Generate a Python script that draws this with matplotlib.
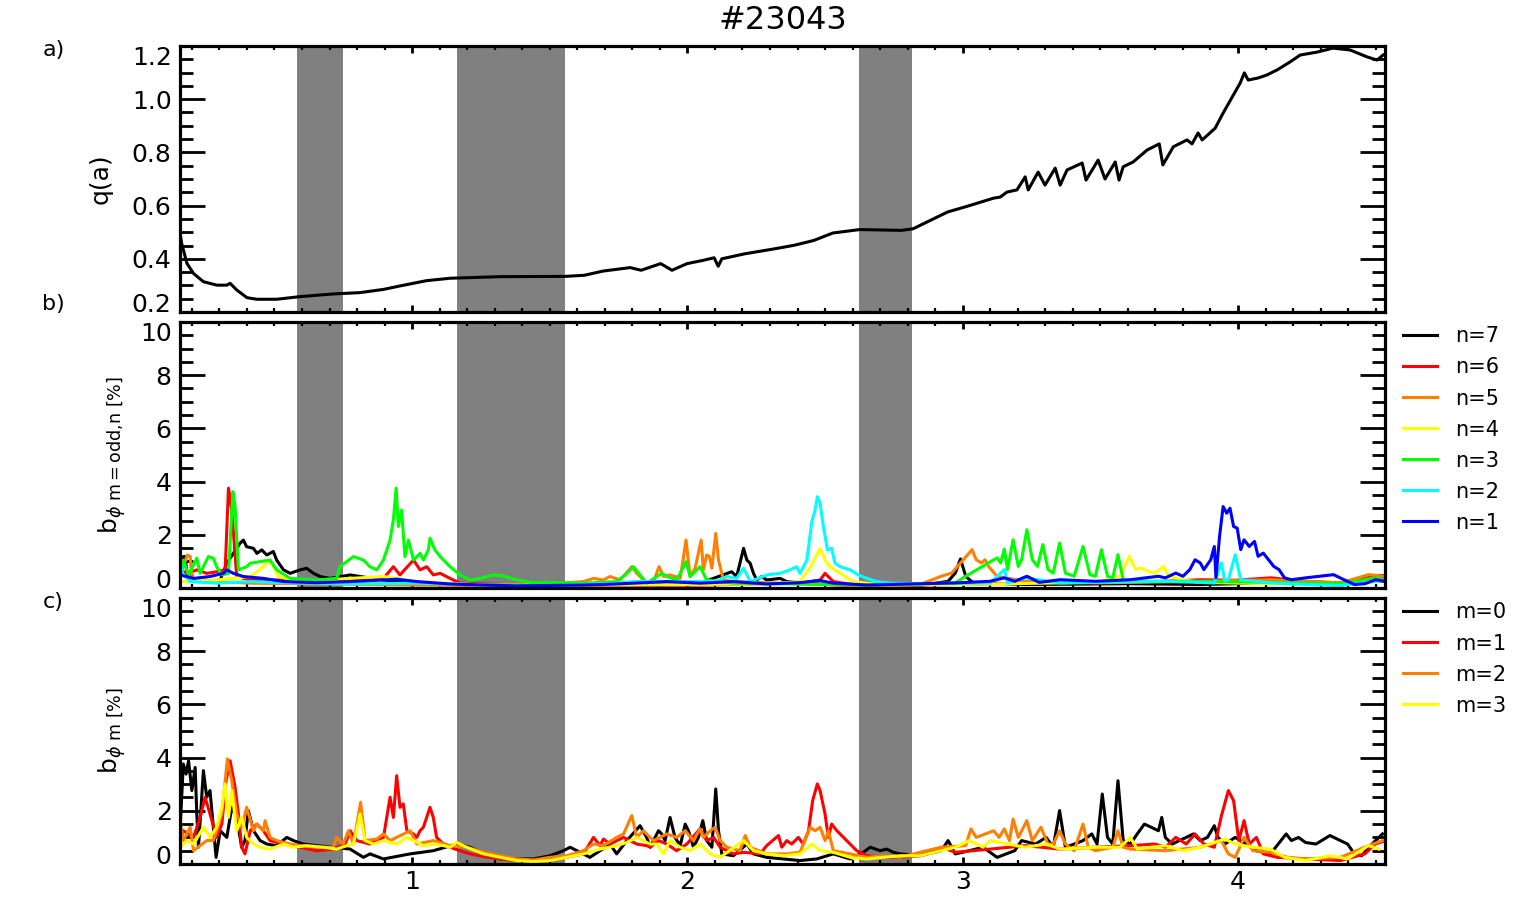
import numpy as np
import matplotlib.pyplot as plt
from matplotlib.ticker import MultipleLocator

plt.rcParams['font.family'] = 'DejaVu Sans'
plt.rcParams['mathtext.fontset'] = 'dejavusans'

shot = '#23043'
x_range = (0.157, 4.534)
bands = [(0.582, 0.749), (1.163, 1.556), (2.624, 2.816)]

# panel a: edge safety factor q(a) vs time
q_a = np.array([
    (0.157, 0.497), (0.163, 0.458), (0.182, 0.383), (0.206, 0.345), (0.242, 0.314),
    (0.291, 0.301), (0.327, 0.301), (0.339, 0.308), (0.363, 0.283), (0.400, 0.254),
    (0.436, 0.248), (0.509, 0.248), (0.593, 0.258), (0.714, 0.268), (0.811, 0.273),
    (0.896, 0.285), (0.956, 0.298), (1.053, 0.318), (1.138, 0.327), (1.320, 0.333),
    (1.555, 0.334), (1.625, 0.338), (1.694, 0.354), (1.792, 0.367), (1.832, 0.357),
    (1.903, 0.382), (1.944, 0.357), (1.999, 0.382), (2.056, 0.394), (2.097, 0.404),
    (2.112, 0.372), (2.125, 0.400), (2.209, 0.419), (2.319, 0.438), (2.388, 0.451),
    (2.459, 0.469), (2.528, 0.497), (2.626, 0.510), (2.778, 0.507), (2.820, 0.513),
    (2.945, 0.576), (3.015, 0.597), (3.112, 0.628), (3.136, 0.632), (3.161, 0.651),
    (3.197, 0.659), (3.227, 0.708), (3.238, 0.659), (3.274, 0.726), (3.299, 0.677),
    (3.336, 0.741), (3.354, 0.677), (3.379, 0.734), (3.434, 0.760), (3.448, 0.696),
    (3.492, 0.771), (3.517, 0.700), (3.554, 0.764), (3.568, 0.696), (3.583, 0.746),
    (3.619, 0.764), (3.670, 0.809), (3.714, 0.832), (3.727, 0.753), (3.765, 0.821),
    (3.815, 0.847), (3.833, 0.832), (3.855, 0.873), (3.870, 0.847), (3.917, 0.891),
    (3.946, 0.948), (4.008, 1.061), (4.023, 1.099), (4.037, 1.072), (4.074, 1.080),
    (4.105, 1.091), (4.142, 1.110), (4.189, 1.140), (4.226, 1.166), (4.287, 1.177),
    (4.345, 1.192), (4.407, 1.185), (4.469, 1.159), (4.505, 1.147), (4.527, 1.166),
])

# panel b: odd-m toroidal modes by n
n7 = np.array([
    (0.157, 0.30), (0.169, 1.18), (0.175, 1.18), (0.184, 0.43), (0.230, 0.24), (0.303, 0.30),
    (0.327, 0.93), (0.375, 1.68), (0.387, 1.80), (0.399, 1.55), (0.424, 1.49), (0.436, 1.30),
    (0.454, 1.43), (0.472, 1.24), (0.496, 1.37), (0.508, 1.05), (0.533, 0.68), (0.557, 0.55),
    (0.593, 0.68), (0.617, 0.74), (0.642, 0.55), (0.666, 0.43), (0.702, 0.36), (0.775, 0.49),
    (0.811, 0.43), (0.896, 0.30), (1.017, 0.18), (1.259, 0.11), (1.501, 0.08), (1.743, 0.11),
    (2.046, 0.18), (2.161, 0.61), (2.179, 0.43), (2.204, 1.49), (2.216, 1.05), (2.228, 0.93),
    (2.240, 0.55), (2.252, 0.30), (2.270, 0.43), (2.288, 0.30), (2.337, 0.36), (2.361, 0.24),
    (2.470, 0.15), (2.652, 0.08), (2.845, 0.09), (2.947, 0.25), (2.973, 0.56), (2.992, 1.09),
    (3.011, 0.44), (3.036, 0.21), (3.227, 0.13), (3.609, 0.16), (3.863, 0.13), (4.118, 0.19),
    (4.372, 0.16), (4.474, 0.31), (4.537, 0.25),
])
n6 = np.array([
    (0.157, 0.68), (0.182, 0.55), (0.218, 0.68), (0.254, 0.55), (0.290, 0.61), (0.321, 0.68),
    (0.333, 3.75), (0.345, 2.93), (0.363, 0.43), (0.412, 0.30), (0.533, 0.30), (0.654, 0.24),
    (0.775, 0.30), (0.896, 0.36), (0.932, 0.80), (0.956, 0.49), (1.005, 1.05), (1.029, 0.68),
    (1.053, 0.80), (1.077, 0.49), (1.102, 0.55), (1.138, 0.36), (1.174, 0.18), (1.380, 0.11),
    (1.622, 0.08), (2.046, 0.11), (2.409, 0.18), (2.482, 0.30), (2.500, 0.55), (2.530, 0.24),
    (2.567, 0.18), (2.652, 0.08), (2.973, 0.13), (3.354, 0.21), (3.736, 0.25), (3.863, 0.31),
    (3.990, 0.29), (4.118, 0.38), (4.245, 0.25), (4.372, 0.19), (4.499, 0.44), (4.537, 0.38),
])
n5 = np.array([
    (0.157, 0.43), (0.184, 1.24), (0.194, 1.18), (0.200, 0.36), (0.290, 0.24), (0.412, 0.18),
    (0.654, 0.15), (1.017, 0.11), (1.380, 0.08), (1.622, 0.24), (1.659, 0.36), (1.695, 0.30),
    (1.719, 0.43), (1.756, 0.30), (1.798, 0.80), (1.816, 0.55), (1.852, 0.18), (1.877, 0.24),
    (1.897, 0.80), (1.913, 0.43), (1.937, 0.49), (1.955, 0.43), (1.974, 0.36), (1.995, 1.80),
    (2.010, 0.43), (2.028, 0.74), (2.050, 1.80), (2.058, 0.68), (2.070, 1.24), (2.080, 1.18),
    (2.089, 0.74), (2.103, 2.05), (2.113, 1.05), (2.131, 0.30), (2.167, 0.24), (2.409, 0.15),
    (2.652, 0.08), (2.845, 0.13), (2.922, 0.44), (2.960, 0.56), (3.034, 1.44), (3.049, 1.06),
    (3.068, 0.94), (3.081, 1.06), (3.094, 0.81), (3.125, 0.44), (3.227, 0.25), (3.482, 0.19),
    (3.863, 0.25), (4.118, 0.31), (4.372, 0.19), (4.474, 0.50), (4.537, 0.44),
])
n4 = np.array([
    (0.157, 0.24), (0.290, 0.30), (0.412, 0.43), (0.460, 0.80), (0.478, 1.05), (0.496, 0.80),
    (0.514, 0.43), (0.593, 0.24), (0.775, 0.36), (0.896, 0.43), (1.017, 0.24), (1.259, 0.11),
    (1.743, 0.11), (2.288, 0.15), (2.409, 0.24), (2.448, 0.80), (2.482, 1.49), (2.500, 1.05),
    (2.518, 0.80), (2.555, 0.55), (2.603, 0.24), (2.712, 0.11), (2.973, 0.13), (3.482, 0.21),
    (3.571, 0.44), (3.606, 1.19), (3.628, 0.69), (3.647, 0.75), (3.672, 0.63), (3.698, 0.56),
    (3.730, 0.81), (3.749, 0.44), (3.800, 0.31), (3.863, 0.21), (4.118, 0.16), (4.372, 0.13),
    (4.499, 0.29), (4.537, 0.31),
])
n3 = np.array([
    (0.157, 0.55), (0.169, 1.05), (0.188, 0.49), (0.218, 1.12), (0.230, 0.55), (0.260, 1.18),
    (0.278, 1.12), (0.290, 0.80), (0.309, 0.49), (0.333, 0.55), (0.349, 3.62), (0.357, 3.06),
    (0.369, 0.68), (0.399, 0.80), (0.412, 0.93), (0.448, 0.99), (0.484, 1.05), (0.508, 0.68),
    (0.557, 0.36), (0.654, 0.30), (0.726, 0.36), (0.738, 0.80), (0.787, 1.18), (0.823, 1.05),
    (0.847, 0.80), (0.872, 0.68), (0.896, 1.05), (0.920, 1.80), (0.932, 2.56), (0.942, 3.75),
    (0.950, 2.31), (0.962, 2.93), (0.974, 1.18), (0.987, 1.80), (1.005, 1.05), (1.029, 1.30),
    (1.041, 1.05), (1.059, 1.43), (1.065, 1.87), (1.083, 1.43), (1.102, 1.18), (1.138, 0.80),
    (1.174, 0.49), (1.211, 0.30), (1.247, 0.36), (1.295, 0.49), (1.332, 0.45), (1.380, 0.30),
    (1.440, 0.20), (1.549, 0.20), (1.622, 0.18), (1.743, 0.24), (1.774, 0.49), (1.804, 0.80),
    (1.828, 0.49), (1.852, 0.18), (1.907, 0.55), (1.925, 0.43), (1.961, 0.30), (1.995, 0.99),
    (2.010, 0.43), (2.046, 0.80), (2.070, 0.30), (2.167, 0.18), (2.409, 0.15), (2.652, 0.11),
    (2.973, 0.19), (3.011, 0.44), (3.113, 1.06), (3.125, 1.13), (3.138, 0.94), (3.151, 1.46),
    (3.163, 0.69), (3.183, 1.81), (3.202, 0.81), (3.214, 1.06), (3.233, 2.19), (3.253, 1.06),
    (3.272, 0.81), (3.291, 1.63), (3.310, 0.69), (3.329, 0.56), (3.352, 1.69), (3.373, 0.56),
    (3.405, 0.44), (3.437, 1.56), (3.462, 0.50), (3.482, 0.44), (3.504, 1.44), (3.526, 0.44),
    (3.545, 0.38), (3.564, 1.25), (3.583, 0.31), (3.609, 0.25), (3.863, 0.25), (4.118, 0.21),
    (4.372, 0.16), (4.499, 0.38), (4.537, 0.31),
])
n2 = np.array([
    (0.157, 1.05), (0.166, 0.55), (0.194, 0.24), (0.290, 0.18), (0.412, 0.24), (0.533, 0.20),
    (0.775, 0.15), (1.017, 0.18), (1.259, 0.11), (1.501, 0.08), (1.743, 0.18), (1.804, 0.24),
    (2.107, 0.24), (2.143, 0.43), (2.179, 0.36), (2.204, 0.74), (2.228, 0.24), (2.288, 0.49),
    (2.337, 0.55), (2.373, 0.68), (2.397, 0.80), (2.409, 0.55), (2.434, 1.05), (2.452, 2.49),
    (2.464, 2.93), (2.472, 3.43), (2.482, 3.18), (2.494, 2.31), (2.509, 1.43), (2.524, 1.49),
    (2.536, 0.93), (2.555, 0.80), (2.591, 0.68), (2.621, 0.49), (2.652, 0.36), (2.688, 0.24),
    (2.736, 0.18), (2.845, 0.16), (3.100, 0.19), (3.151, 0.69), (3.163, 0.19), (3.227, 0.38),
    (3.354, 0.19), (3.736, 0.25), (3.914, 0.19), (3.940, 0.94), (3.952, 0.25), (3.965, 0.31),
    (3.990, 1.25), (4.010, 0.31), (4.118, 0.19), (4.245, 0.13), (4.372, 0.09), (4.499, 0.25),
    (4.537, 0.31),
])
n1 = np.array([
    (0.157, 0.49), (0.206, 0.36), (0.266, 0.43), (0.315, 0.55), (0.327, 0.68), (0.351, 0.55),
    (0.387, 0.43), (0.460, 0.36), (0.533, 0.24), (0.654, 0.20), (0.775, 0.24), (0.896, 0.30),
    (0.944, 0.33), (1.017, 0.24), (1.138, 0.15), (1.259, 0.11), (1.380, 0.08), (1.622, 0.11),
    (1.743, 0.15), (1.804, 0.18), (1.925, 0.24), (2.046, 0.18), (2.167, 0.24), (2.288, 0.15),
    (2.409, 0.20), (2.482, 0.28), (2.530, 0.18), (2.652, 0.11), (2.973, 0.19), (3.100, 0.25),
    (3.151, 0.38), (3.189, 0.25), (3.233, 0.44), (3.278, 0.21), (3.354, 0.31), (3.482, 0.25),
    (3.609, 0.31), (3.711, 0.44), (3.736, 0.38), (3.774, 0.56), (3.800, 0.44), (3.825, 0.69),
    (3.844, 1.06), (3.863, 0.94), (3.876, 0.69), (3.901, 1.06), (3.914, 1.56), (3.920, 0.38),
    (3.933, 1.94), (3.946, 3.06), (3.959, 2.81), (3.971, 3.00), (3.984, 2.31), (3.997, 2.25),
    (4.010, 1.44), (4.022, 1.81), (4.041, 1.56), (4.060, 1.75), (4.073, 1.19), (4.092, 1.31),
    (4.111, 1.06), (4.130, 0.81), (4.149, 0.69), (4.169, 0.38), (4.194, 0.31), (4.245, 0.38),
    (4.296, 0.44), (4.347, 0.50), (4.385, 0.31), (4.423, 0.13), (4.461, 0.16), (4.499, 0.31),
    (4.537, 0.25),
])

# panel c: poloidal modes m
m0 = np.array([
    (0.157, 1.25), (0.169, 3.76), (0.179, 3.38), (0.188, 3.88), (0.200, 2.76), (0.212, 3.63),
    (0.218, 1.88), (0.224, 0.63), (0.242, 3.51), (0.254, 2.51), (0.266, 2.76), (0.278, 1.38),
    (0.288, 0.25), (0.303, 1.25), (0.327, 1.00), (0.345, 2.13), (0.363, 1.75), (0.381, 0.63),
    (0.393, 0.88), (0.405, 2.01), (0.424, 1.25), (0.448, 0.88), (0.472, 0.75), (0.508, 0.69),
    (0.545, 1.00), (0.569, 0.88), (0.605, 0.75), (0.654, 0.69), (0.714, 0.63), (0.775, 0.56),
    (0.823, 0.25), (0.847, 0.38), (0.896, 0.19), (0.993, 0.38), (1.077, 0.50), (1.162, 0.75),
    (1.211, 0.63), (1.259, 0.38), (1.320, 0.19), (1.380, 0.19), (1.441, 0.19), (1.501, 0.31),
    (1.550, 0.50), (1.574, 0.63), (1.610, 0.44), (1.646, 0.25), (1.683, 0.50), (1.719, 0.75),
    (1.743, 0.38), (1.780, 0.88), (1.828, 1.44), (1.852, 1.00), (1.865, 0.63), (1.895, 1.25),
    (1.907, 1.13), (1.919, 0.88), (1.937, 1.75), (1.955, 1.00), (1.974, 0.69), (1.992, 1.50),
    (2.004, 1.25), (2.022, 0.63), (2.040, 1.00), (2.056, 1.63), (2.070, 0.88), (2.089, 0.63),
    (2.103, 2.82), (2.113, 1.25), (2.125, 0.38), (2.167, 0.31), (2.216, 0.75), (2.240, 0.38),
    (2.288, 0.25), (2.349, 0.19), (2.409, 0.13), (2.470, 0.19), (2.530, 0.38), (2.591, 0.19),
    (2.639, 0.44), (2.664, 0.63), (2.700, 0.50), (2.724, 0.56), (2.748, 0.44), (2.773, 0.38),
    (2.845, 0.31), (2.922, 0.50), (2.947, 0.88), (2.973, 0.38), (3.024, 0.50), (3.074, 0.63),
    (3.125, 0.25), (3.189, 0.50), (3.214, 0.88), (3.265, 0.75), (3.303, 1.00), (3.329, 0.63),
    (3.352, 2.01), (3.373, 0.63), (3.405, 0.75), (3.437, 0.88), (3.469, 1.13), (3.488, 0.75),
    (3.507, 2.63), (3.526, 1.00), (3.545, 0.75), (3.564, 3.13), (3.583, 0.88), (3.609, 0.75),
    (3.634, 1.13), (3.660, 1.50), (3.685, 1.38), (3.711, 1.25), (3.723, 1.75), (3.736, 1.00),
    (3.761, 0.75), (3.787, 0.88), (3.812, 1.00), (3.838, 1.13), (3.863, 0.88), (3.889, 1.00),
    (3.914, 1.44), (3.927, 1.00), (3.952, 0.75), (3.990, 1.00), (4.029, 0.75), (4.067, 0.50),
    (4.118, 0.38), (4.175, 1.13), (4.194, 0.88), (4.220, 1.00), (4.245, 0.81), (4.283, 0.75),
    (4.334, 1.07), (4.372, 0.88), (4.398, 0.75), (4.423, 0.38), (4.449, 0.31), (4.487, 0.75),
    (4.525, 1.13),
])
m1 = np.array([
    (0.157, 0.88), (0.169, 1.25), (0.206, 1.00), (0.230, 1.75), (0.248, 2.51), (0.266, 1.88),
    (0.290, 1.00), (0.309, 1.50), (0.324, 3.13), (0.339, 3.88), (0.357, 2.88), (0.369, 1.88),
    (0.381, 0.63), (0.393, 0.38), (0.412, 1.25), (0.436, 1.50), (0.460, 1.25), (0.484, 0.88),
    (0.533, 0.75), (0.593, 0.63), (0.654, 0.50), (0.714, 0.56), (0.757, 0.75), (0.775, 1.25),
    (0.799, 0.88), (0.847, 0.75), (0.896, 1.00), (0.920, 2.51), (0.932, 1.75), (0.944, 3.32),
    (0.956, 2.13), (0.968, 2.26), (0.981, 1.25), (1.005, 1.13), (1.017, 1.00), (1.029, 1.25),
    (1.041, 1.38), (1.065, 2.13), (1.077, 1.75), (1.089, 1.00), (1.114, 0.75), (1.138, 0.63),
    (1.174, 0.50), (1.211, 0.38), (1.259, 0.28), (1.320, 0.19), (1.380, 0.13), (1.441, 0.15),
    (1.501, 0.19), (1.562, 0.25), (1.622, 0.38), (1.659, 1.00), (1.683, 0.69), (1.695, 0.94),
    (1.719, 0.75), (1.768, 1.00), (1.816, 0.75), (1.852, 0.69), (1.865, 0.63), (1.895, 0.88),
    (1.925, 0.75), (1.961, 0.50), (1.998, 0.75), (2.046, 1.32), (2.070, 0.88), (2.095, 1.00),
    (2.119, 0.63), (2.167, 0.38), (2.204, 0.44), (2.264, 0.38), (2.288, 0.69), (2.331, 1.07),
    (2.343, 0.63), (2.361, 0.88), (2.379, 0.75), (2.403, 1.00), (2.421, 0.75), (2.440, 1.25),
    (2.455, 2.38), (2.472, 3.01), (2.482, 2.76), (2.500, 1.88), (2.512, 1.00), (2.524, 1.50),
    (2.543, 1.25), (2.567, 1.00), (2.591, 0.75), (2.615, 0.50), (2.652, 0.31), (2.712, 0.25),
    (2.773, 0.25), (2.845, 0.31), (2.922, 0.63), (2.973, 0.44), (3.100, 0.56), (3.227, 0.69),
    (3.354, 0.56), (3.482, 0.63), (3.609, 0.69), (3.698, 0.75), (3.736, 0.63), (3.774, 1.00),
    (3.812, 0.75), (3.844, 1.13), (3.876, 0.75), (3.914, 0.63), (3.940, 1.82), (3.965, 2.76),
    (3.984, 2.38), (4.003, 0.88), (4.022, 1.63), (4.041, 0.75), (4.067, 1.00), (4.092, 0.38),
    (4.143, 0.25), (4.245, 0.19), (4.372, 0.13), (4.461, 0.38), (4.499, 0.75), (4.537, 0.88),
])
m2 = np.array([
    (0.157, 1.63), (0.169, 0.88), (0.194, 1.38), (0.206, 0.50), (0.254, 0.88), (0.278, 0.88),
    (0.290, 1.25), (0.309, 1.88), (0.329, 3.95), (0.345, 3.13), (0.363, 1.88), (0.381, 1.38),
    (0.399, 2.13), (0.424, 1.25), (0.436, 1.50), (0.460, 1.25), (0.466, 1.63), (0.484, 1.00),
    (0.508, 0.88), (0.557, 0.75), (0.593, 0.69), (0.654, 0.63), (0.714, 0.63), (0.726, 1.00),
    (0.750, 0.75), (0.769, 1.25), (0.787, 0.75), (0.813, 2.32), (0.829, 0.88), (0.872, 0.94),
    (0.896, 1.13), (0.920, 0.88), (0.993, 1.25), (1.017, 0.75), (1.077, 0.88), (1.138, 0.69),
    (1.198, 0.63), (1.259, 0.44), (1.320, 0.31), (1.380, 0.19), (1.441, 0.15), (1.501, 0.25),
    (1.562, 0.31), (1.622, 0.50), (1.659, 0.75), (1.695, 0.69), (1.743, 1.00), (1.768, 1.13),
    (1.798, 1.82), (1.816, 1.00), (1.840, 1.25), (1.864, 1.00), (1.877, 0.88), (1.925, 1.13),
    (1.961, 1.00), (1.992, 1.25), (2.022, 0.88), (2.046, 1.32), (2.058, 1.00), (2.083, 1.25),
    (2.101, 1.38), (2.119, 0.88), (2.143, 0.63), (2.191, 0.50), (2.210, 1.07), (2.228, 0.63),
    (2.288, 0.38), (2.361, 0.38), (2.409, 0.44), (2.446, 1.38), (2.464, 1.25), (2.482, 1.38),
    (2.500, 0.88), (2.512, 1.25), (2.530, 0.50), (2.591, 0.38), (2.652, 0.25), (2.712, 0.31),
    (2.773, 0.25), (2.845, 0.44), (2.922, 0.63), (3.011, 0.69), (3.030, 1.32), (3.049, 1.00),
    (3.113, 1.25), (3.132, 1.00), (3.151, 1.32), (3.170, 0.88), (3.183, 1.69), (3.202, 1.00),
    (3.233, 1.63), (3.253, 0.88), (3.284, 1.38), (3.310, 0.75), (3.329, 0.75), (3.352, 1.25),
    (3.373, 0.75), (3.405, 0.50), (3.437, 1.50), (3.456, 0.63), (3.482, 0.50), (3.545, 0.63),
    (3.564, 1.25), (3.583, 0.63), (3.609, 0.56), (3.736, 0.50), (3.863, 0.63), (3.940, 0.88),
    (3.965, 0.38), (3.990, 0.25), (4.022, 1.00), (4.054, 0.50), (4.118, 0.44), (4.181, 0.25),
    (4.245, 0.19), (4.372, 0.25), (4.474, 0.69), (4.525, 0.88),
])
m3 = np.array([
    (0.157, 0.63), (0.182, 0.88), (0.206, 0.75), (0.242, 1.38), (0.266, 1.00), (0.290, 1.38),
    (0.309, 2.13), (0.321, 3.01), (0.333, 1.75), (0.345, 2.76), (0.363, 1.25), (0.381, 1.75),
    (0.399, 1.00), (0.424, 0.75), (0.448, 0.63), (0.484, 0.56), (0.533, 0.75), (0.569, 0.63),
    (0.617, 0.69), (0.678, 0.63), (0.726, 0.56), (0.763, 0.69), (0.787, 0.75), (0.811, 1.88),
    (0.829, 0.88), (0.859, 0.75), (0.896, 0.88), (0.944, 0.75), (0.981, 1.00), (1.005, 0.88),
    (1.041, 0.69), (1.089, 0.75), (1.138, 0.63), (1.162, 0.81), (1.198, 0.63), (1.259, 0.38),
    (1.320, 0.25), (1.380, 0.13), (1.441, 0.09), (1.501, 0.13), (1.562, 0.25), (1.622, 0.38),
    (1.683, 0.56), (1.743, 0.69), (1.780, 0.81), (1.816, 1.00), (1.864, 0.75), (1.889, 0.75),
    (1.913, 0.38), (1.937, 0.88), (1.974, 0.63), (2.010, 0.50), (2.046, 0.75), (2.083, 0.38),
    (2.119, 0.25), (2.204, 0.88), (2.240, 0.50), (2.288, 0.38), (2.349, 0.31), (2.409, 0.38),
    (2.452, 0.75), (2.482, 0.50), (2.530, 0.44), (2.591, 0.25), (2.652, 0.19), (2.712, 0.25),
    (2.773, 0.31), (2.845, 0.31), (2.973, 0.63), (3.024, 0.88), (3.074, 0.63), (3.100, 0.88),
    (3.163, 0.75), (3.227, 0.63), (3.303, 0.75), (3.354, 0.56), (3.482, 0.63), (3.571, 0.63),
    (3.609, 1.00), (3.634, 0.56), (3.736, 0.69), (3.800, 0.50), (3.863, 0.63), (3.952, 0.94),
    (3.990, 0.75), (4.054, 0.63), (4.118, 0.56), (4.169, 0.25), (4.245, 0.13), (4.334, 0.31),
    (4.398, 0.19), (4.474, 0.69), (4.512, 0.56),
])

n_series = [n7, n6, n5, n4, n3, n2, n1]
n_labels = ['n=7', 'n=6', 'n=5', 'n=4', 'n=3', 'n=2', 'n=1']
n_colors = ['black', '#ff0000', '#ff7f00', '#ffff00', '#00ff00', '#00ffff', '#0000ff']
m_series = [m0, m1, m2, m3]
m_labels = ['m=0', 'm=1', 'm=2', 'm=3']
m_colors = ['black', '#ff0000', '#ff7f00', '#ffff00']

fig = plt.figure(figsize=(15.14, 9.0), dpi=100)
ax_a = fig.add_axes([0.1189, 0.6533, 0.7959, 0.2956])
ax_b = fig.add_axes([0.1189, 0.3467, 0.7959, 0.2956])
ax_c = fig.add_axes([0.1189, 0.0400, 0.7959, 0.2956])

ax_a.plot(q_a[:, 0], q_a[:, 1], color='black', lw=2.2)

for d, lab, col in zip(n_series, n_labels, n_colors):
    ax_b.plot(d[:, 0], d[:, 1], color=col, lw=2.2, label=lab)
for d, lab, col in zip(m_series, m_labels, m_colors):
    ax_c.plot(d[:, 0], d[:, 1], color=col, lw=2.2, label=lab)

for ax in (ax_a, ax_b, ax_c):
    for b0, b1 in bands:
        ax.axvspan(b0, b1, color='#808080', lw=0, zorder=0)
    ax.set_xlim(*x_range)
    ax.xaxis.set_major_locator(MultipleLocator(1))
    ax.xaxis.set_minor_locator(MultipleLocator(0.1))
    ax.tick_params(which='both', direction='in', top=True, right=True, labelsize=18)
    ax.tick_params(axis='y', which='major', length=18, width=2, pad=6)
    ax.tick_params(axis='y', which='minor', length=9.5, width=2)
    ax.tick_params(axis='x', which='major', length=5, width=2, pad=4)
    ax.tick_params(axis='x', which='minor', length=3, width=1.6)
    for sp in ax.spines.values():
        sp.set_linewidth(2.3)

ax_a.set_ylim(0.2, 1.2)
ax_a.set_yticks([0.2, 0.4, 0.6, 0.8, 1.0, 1.2])
ax_a.set_yticklabels(['0.2', '0.4', '0.6', '0.8', '1.0', '1.2'])
ax_a.yaxis.set_minor_locator(MultipleLocator(0.05))
for ax in (ax_b, ax_c):
    ax.set_ylim(0, 10)
    ax.set_yticks([0, 2, 4, 6, 8, 10])
    ax.yaxis.set_minor_locator(MultipleLocator(0.5))

ax_a.tick_params(axis='x', labelbottom=False)
ax_b.tick_params(axis='x', labelbottom=False)

# keep edge labels inside the panel, as in the original
for ax in (ax_a, ax_b, ax_c):
    ticks = ax.yaxis.get_major_ticks()
    ticks[0].label1.set_verticalalignment('baseline')
    ticks[-1].label1.set_verticalalignment('top')

ax_a.set_ylabel('q(a)', fontsize=18)
ax_b.set_ylabel(r'b$_{\phi\ \mathrm{m{=}odd{,}n}\ \mathrm{[\%]}}$', fontsize=18)
ax_c.set_ylabel(r'b$_{\phi\ \mathrm{m}\ \mathrm{[\%]}}$', fontsize=18)
ax_a.yaxis.set_label_coords(-0.056, 0.5)
ax_b.yaxis.set_label_coords(-0.043, 0.5)
ax_c.yaxis.set_label_coords(-0.043, 0.5)

for ax in (ax_b, ax_c):
    ax.legend(loc='upper left', bbox_to_anchor=(1.015, 0.983), frameon=False,
              fontsize=15, handlelength=1.65, handletextpad=0.85, labelspacing=0.53,
              borderpad=0, borderaxespad=0)

fig.text(0.517, 0.977, shot, ha='center', va='center', fontsize=23)
for lab, yy in (('a)', 0.944), ('b)', 0.662), ('c)', 0.331)):
    fig.text(0.028, yy, lab, ha='left', va='center', fontsize=16)

fig.savefig('out.png', dpi=100)
